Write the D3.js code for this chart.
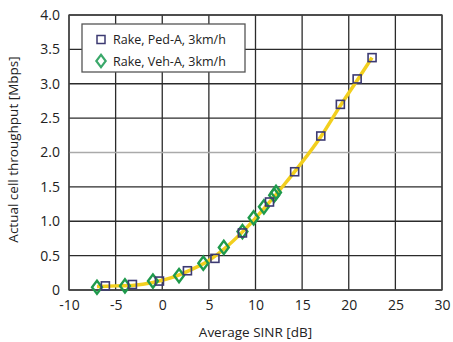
<!DOCTYPE html>
<html>
<head>
<meta charset="utf-8">
<script src="https://cdn.jsdelivr.net/npm/d3@7"></script>
<style>
  body { margin: 0; background: #fff; }
  svg text { font-family: 'Open Sans', sans-serif; fill: #222; }
</style>
</head>
<body>
<div id="chart"></div>
<script>
'use strict';

// Rake, Ped-A, 3km/h (squares)
var pedX = [ -6.1, -3.2, -0.3, 2.7, 5.65, 8.6, 11.5, 14.2, 17.0, 19.1, 20.9, 22.5 ];
var pedY = [ 0.06, 0.08, 0.13, 0.28, 0.46, 0.83, 1.28, 1.72, 2.24, 2.70, 3.07, 3.38 ];

// Rake, Veh-A, 3km/h (diamonds)
var vehX = [ -7.0, -4.0, -1.0, 1.8, 4.4, 6.6, 8.6, 9.8, 10.9, 12.0, 12.2 ];
var vehY = [ 0.04, 0.06, 0.13, 0.21, 0.39, 0.62, 0.85, 1.05, 1.21, 1.38, 1.42 ];

// yellow fitted curve
var fitX = [ -7, -5, -3, -1, 1, 3, 5, 7, 9, 11, 13, 15, 17, 19, 21, 22.5 ];
var fitY = [ 0.05, 0.06, 0.07, 0.11, 0.18, 0.29, 0.43, 0.64, 0.9, 1.2, 1.52, 1.86, 2.23, 2.66, 3.07, 3.38 ];

var xTicks = [ -10, -5, 0, 5, 10, 15, 20, 25, 30 ];
var yTicks = [ 0, 0.5, 1.0, 1.5, 2.0, 2.5, 3.0, 3.5, 4.0 ];
var legendLabels = [ 'Rake, Ped-A, 3km/h', 'Rake, Veh-A, 3km/h' ];

var width = 453, height = 342;
var margin = { top: 15, right: 11, bottom: 52, left: 69 };
var w = width - margin.left - margin.right,
    h = height - margin.top - margin.bottom;

var x = d3.scaleLinear().domain( [ -10, 30 ] ).range( [ 0, w ] );
var y = d3.scaleLinear().domain( [ 0, 4 ] ).range( [ h, 0 ] );

var svg = d3.select( '#chart' ).append( 'svg' )
    .attr( 'width', width )
    .attr( 'height', height )
  .append( 'g' )
    .attr( 'transform', 'translate(' + margin.left + ',' + margin.top + ')' );

// grid
svg.append( 'g' )
  .selectAll( 'line' )
  .data( xTicks )
  .join( 'line' )
    .attr( 'x1', function( d ) { return x( d ); } )
    .attr( 'x2', function( d ) { return x( d ); } )
    .attr( 'y1', 0 )
    .attr( 'y2', h )
    .attr( 'stroke', '#2b2b2b' )
    .attr( 'stroke-width', 1.3 );

svg.append( 'g' )
  .selectAll( 'line' )
  .data( yTicks )
  .join( 'line' )
    .attr( 'x1', 0 )
    .attr( 'x2', w )
    .attr( 'y1', function( d ) { return y( d ); } )
    .attr( 'y2', function( d ) { return y( d ); } )
    .attr( 'stroke', function( d ) { return d === 2 ? '#aaa' : '#2b2b2b'; } )
    .attr( 'stroke-width', 1.3 );

svg.append( 'rect' )
  .attr( 'width', w )
  .attr( 'height', h )
  .attr( 'fill', 'none' )
  .attr( 'stroke', '#444' )
  .attr( 'stroke-width', 1.3 );

// axes labels (plain hyphen for negatives, as in the original)
var xAxis = svg.append( 'g' )
  .attr( 'transform', 'translate(0,' + h + ')' )
  .call( d3.axisBottom( x ).tickValues( xTicks ).tickSize( 0 ).tickPadding( 10 )
    .tickFormat( function( d ) { return String( d ); } ) );
xAxis.select( '.domain' ).remove();
xAxis.selectAll( 'text' )
  .style( 'font-size', '14px' );

var yAxis = svg.append( 'g' )
  .call( d3.axisLeft( y ).tickValues( yTicks ).tickSize( 0 ).tickPadding( 9 )
    .tickFormat( function( d ) { return d === 0 ? '0' : d.toFixed( 1 ); } ) );
yAxis.select( '.domain' ).remove();
yAxis.selectAll( 'text' )
  .style( 'font-size', '14px' );

svg.append( 'text' )
  .attr( 'x', w / 2 )
  .attr( 'y', h + 47 )
  .attr( 'text-anchor', 'middle' )
  .style( 'font-size', '13.5px' )
  .text( 'Average SINR [dB]' );

svg.append( 'text' )
  .attr( 'transform', 'rotate(-90)' )
  .attr( 'x', -h / 2 + 3 )
  .attr( 'y', -51 )
  .attr( 'text-anchor', 'middle' )
  .style( 'font-size', '13.5px' )
  .text( 'Actual cell throughput [Mbps]' );

// fitted curve
var fit = fitX.map( function( d, i ) { return [ d, fitY[i] ]; } );
svg.append( 'path' )
  .attr( 'd', d3.line()
    .x( function( d ) { return x( d[0] ); } )
    .y( function( d ) { return y( d[1] ); } )
    .curve( d3.curveMonotoneX )( fit ) )
  .attr( 'fill', 'none' )
  .attr( 'stroke', '#f2cf1e' )
  .attr( 'stroke-width', 3.5 );

var squareColor = '#3c3a72',
    diamondColor = '#1f9a4c';

// diamonds
svg.append( 'g' )
  .selectAll( 'path' )
  .data( vehX )
  .join( 'path' )
    .attr( 'd', d3.symbol( d3.symbolDiamond, 50 ) )
    .attr( 'transform', function( d, i ) {
      return 'translate(' + x( d ) + ',' + y( vehY[i] ) + ') scale(1.3,1)';
    } )
    .attr( 'fill', 'none' )
    .attr( 'stroke', diamondColor )
    .attr( 'stroke-width', 2 );

// squares
svg.append( 'g' )
  .selectAll( 'rect' )
  .data( pedX )
  .join( 'rect' )
    .attr( 'x', function( d ) { return x( d ) - 4; } )
    .attr( 'y', function( d, i ) { return y( pedY[i] ) - 4; } )
    .attr( 'width', 8 )
    .attr( 'height', 8 )
    .attr( 'fill', 'none' )
    .attr( 'stroke', squareColor )
    .attr( 'stroke-width', 1.6 );

// legend
var legend = svg.append( 'g' )
  .attr( 'transform', 'translate(' + ( 82 - margin.left ) + ',' + ( 24 - margin.top ) + ')' );

legend.append( 'rect' )
  .attr( 'width', 163 )
  .attr( 'height', 48 )
  .attr( 'fill', '#fff' )
  .attr( 'stroke', '#555' )
  .attr( 'stroke-width', 1.3 );

legend.append( 'rect' )
  .attr( 'x', 15 )
  .attr( 'y', 11.5 )
  .attr( 'width', 8 )
  .attr( 'height', 8 )
  .attr( 'fill', 'none' )
  .attr( 'stroke', squareColor )
  .attr( 'stroke-width', 1.5 );

legend.append( 'path' )
  .attr( 'd', d3.symbol( d3.symbolDiamond, 45 ) )
  .attr( 'transform', 'translate(19,37) scale(1.3,1)' )
  .attr( 'fill', 'none' )
  .attr( 'stroke', '#3aa86a' )
  .attr( 'stroke-width', 1.8 );

legend.selectAll( 'text.lbl' )
  .data( legendLabels )
  .join( 'text' )
    .attr( 'class', 'lbl' )
    .attr( 'x', 31 )
    .attr( 'y', function( d, i ) { return 20 + i * 22; } )
    .style( 'font-size', '12.5px' )
    .text( function( d ) { return d; } );
</script>
</body>
</html>
